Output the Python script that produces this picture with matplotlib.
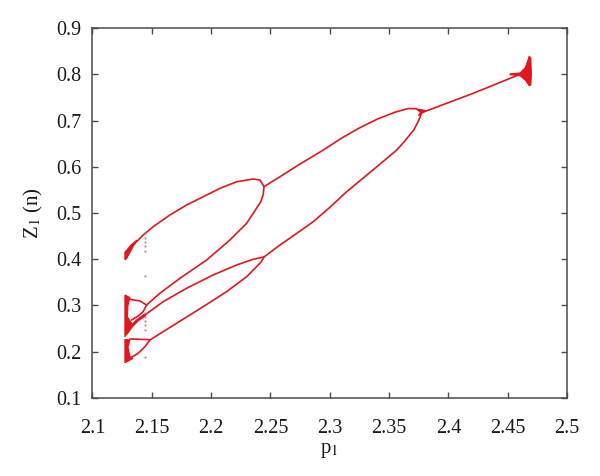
import numpy as np
import matplotlib
matplotlib.use('Agg')
import matplotlib.pyplot as plt

# branches of the bifurcation diagram (p1, Z1)
tail_p = [2.3775, 2.42, 2.4604]
tail_z = [0.717, 0.758, 0.800]

big_top_p = [2.2446, 2.2581, 2.275, 2.2946, 2.31, 2.325, 2.34, 2.355, 2.366, 2.373, 2.3775]
big_top_z = [0.557, 0.5785, 0.606, 0.6362, 0.662, 0.684, 0.703, 0.718, 0.726, 0.7255, 0.717]

big_bot_p = [2.2446, 2.2581, 2.27, 2.2861, 2.30, 2.3143, 2.335, 2.3565, 2.363, 2.371, 2.3755, 2.3775]
big_bot_z = [0.405, 0.4308, 0.452, 0.4812, 0.512, 0.5461, 0.590, 0.6362, 0.655, 0.680, 0.703, 0.717]

up_top_p = [2.2446, 2.2412, 2.2356, 2.2216, 2.2075, 2.1934, 2.1794, 2.1653, 2.1513, 2.1428, 2.1344]
up_top_z = [0.557, 0.5714, 0.5735, 0.5677, 0.5534, 0.5353, 0.5173, 0.4957, 0.4704, 0.4525, 0.4308]

up_bot_p = [2.2446, 2.2440, 2.2420, 2.237, 2.23, 2.2159, 2.1963, 2.1738, 2.1569, 2.1457]
up_bot_z = [0.557, 0.540, 0.525, 0.505, 0.4778, 0.4417, 0.3984, 0.3589, 0.3264, 0.3011]

lo_top_p = [2.2446, 2.2356, 2.2216, 2.2018, 2.1794, 2.1597, 2.1443]
lo_top_z = [0.405, 0.400, 0.3876, 0.366, 0.3372, 0.3083, 0.2795]

lo_bot_p = [2.2446, 2.2425, 2.238, 2.23, 2.2131, 2.1934, 2.171, 2.1485]
lo_bot_z = [0.405, 0.395, 0.383, 0.3623, 0.3299, 0.2975, 0.2616, 0.2255]

# small loops near the onset of chaos
loopA_top_p = [2.1457, 2.14, 2.1344, 2.1316]
loopA_top_z = [0.3011, 0.3098, 0.312, 0.3135]
loopA_bot_p = [2.1457, 2.1428, 2.1386, 2.133]
loopA_bot_z = [0.3011, 0.2867, 0.2773, 0.2687]
loopB_p = [2.1443, 2.1380, 2.133, 2.1288]
loopB_z = [0.2795, 0.268, 0.255, 0.240]
loopC_top_p = [2.1485, 2.147, 2.1316]
loopC_top_z = [0.2255, 0.2262, 0.2276]
loopC_bot_p = [2.1485, 2.1443, 2.1386, 2.133]
loopC_bot_z = [0.2255, 0.211, 0.1967, 0.188]

# chaotic bands (filled outlines)
band1_p = [2.1274, 2.1274, 2.1325, 2.1375, 2.1341, 2.1291]
band1_z = [0.3984, 0.415, 0.4308, 0.4416, 0.4265, 0.4027]
band2_p = [2.1274, 2.1316, 2.1300, 2.1295, 2.1330, 2.1290, 2.1274]
band2_z = [0.3227, 0.317, 0.300, 0.275, 0.262, 0.240, 0.232]
band3_p = [2.1274, 2.1316, 2.1300, 2.1316, 2.1340, 2.1274]
band3_z = [0.2265, 0.2254, 0.210, 0.190, 0.185, 0.176]
node_p = [2.3746, 2.3811, 2.3746, 2.3765]
node_z = [0.7249, 0.7215, 0.7104, 0.717]
spike_p = [2.452, 2.4604, 2.465, 2.4682, 2.4695, 2.4700, 2.4695, 2.4682, 2.465, 2.4604, 2.452]
spike_z = [0.801, 0.803, 0.815, 0.8395, 0.835, 0.800, 0.777, 0.7753, 0.787, 0.797, 0.799]

# scattered transient points
dots_p = [2.1445] * 12
dots_z = [0.456, 0.447, 0.438, 0.428, 0.418, 0.364, 0.284, 0.275, 0.266, 0.257, 0.248, 0.189]

xticks = [2.1, 2.15, 2.2, 2.25, 2.3, 2.35, 2.4, 2.45, 2.5]
xticklabels = ['2.1', '2.15', '2.2', '2.25', '2.3', '2.35', '2.4', '2.45', '2.5']
yticks = [0.1, 0.2, 0.3, 0.4, 0.5, 0.6, 0.7, 0.8, 0.9]
yticklabels = ['0.1', '0.2', '0.3', '0.4', '0.5', '0.6', '0.7', '0.8', '0.9']

red = '#e3161e'

plt.rcParams['font.family'] = ['Liberation Serif', 'DejaVu Serif']
plt.rcParams['mathtext.fontset'] = 'stix'

fig = plt.figure(figsize=(6, 4.76), dpi=100)
ax = fig.add_axes([0.154, 0.164, 0.791, 0.777])

lines = [(tail_p, tail_z), (big_top_p, big_top_z), (big_bot_p, big_bot_z),
		 (up_top_p, up_top_z), (up_bot_p, up_bot_z), (lo_top_p, lo_top_z), (lo_bot_p, lo_bot_z),
		 (loopA_top_p, loopA_top_z), (loopA_bot_p, loopA_bot_z), (loopC_top_p, loopC_top_z),
		 (loopC_bot_p, loopC_bot_z)]
for p, z in lines:
	ax.plot(p, z, '-', color=red, linewidth=1.2, solid_capstyle='round', solid_joinstyle='round')
ax.plot(loopB_p, loopB_z, '-', color=red, linewidth=2.2, solid_capstyle='round')

for p, z in [(band1_p, band1_z), (band2_p, band2_z), (band3_p, band3_z), (node_p, node_z), (spike_p, spike_z)]:
	ax.fill(p, z, color=red, linewidth=0.8, edgecolor=red)

ax.plot(dots_p, dots_z, 's', markersize=1.3, color='#b87088', markeredgewidth=0)

ax.set_xlim(2.1, 2.5)
ax.set_ylim(0.1, 0.9)
ax.set_xticks(xticks)
ax.set_xticklabels(xticklabels)
ax.set_yticks(yticks)
ax.set_yticklabels(yticklabels)

for s in ax.spines.values():
	s.set_color('#4a4a4a')
	s.set_linewidth(1.1)
ax.tick_params(direction='in', length=4, width=1, color='#4a4a4a', top=True, right=True,
			   labelsize=14.5, labelcolor='#1a1a1a')
ax.tick_params(axis='x', pad=15)
ax.tick_params(axis='y', pad=8)

ax.set_xlabel('p$_1$', fontsize=15, color='#1a1a1a', labelpad=2)
ax.set_ylabel('Z$_1$ (n)', fontsize=15, color='#1a1a1a', labelpad=8)

plt.savefig('out.png', dpi=100)
